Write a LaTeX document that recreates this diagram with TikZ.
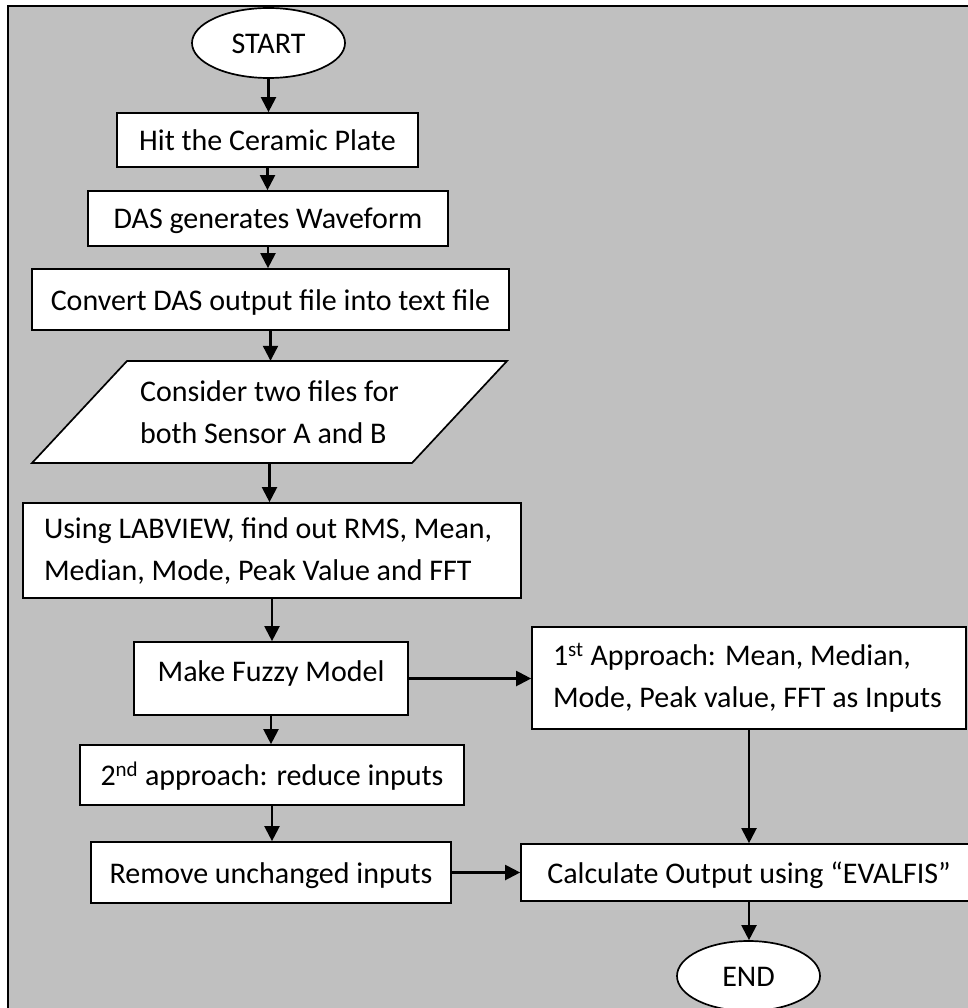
\documentclass[tikz,border=0pt]{standalone}
\usepackage{fontspec}
\setmainfont{Carlito}
\usetikzlibrary{arrows.meta,shapes.geometric}
\definecolor{bggray}{RGB}{192,192,192}
\begin{document}
\begin{tikzpicture}[x=1pt,y=-1pt,
  txt/.style={font=\fontsize{30}{42}\selectfont},
  box/.style={txt, draw, line width=1.7pt, fill=white, inner sep=0pt},
  oval/.style={txt, ellipse, draw, line width=1.7pt, fill=white, inner sep=0pt},
  one/.style={text height=24pt, text depth=3pt},
  arr/.style={line width=2.2pt, -{Triangle[length=15pt,width=15pt]}}
]
\useasboundingbox (0,0) rectangle (967,1008);
% background frame
\draw[line width=2.5pt, fill=bggray] (8,6) rectangle (1000,1040);

% left column
\node[oval, one, minimum width=153pt, minimum height=70pt] (start) at (268.5,43) {START};
\node[box, one, minimum width=301pt, minimum height=54pt] (hit) at (267.5,140) {Hit the Ceramic Plate};
\node[box, one, minimum width=360pt, minimum height=55pt] (das) at (268,218.5) {DAS generates Waveform};
\node[box, one, minimum width=477pt, minimum height=61pt] (conv) at (270.5,299.5) {Convert DAS output file into text file};
% parallelogram
\filldraw[fill=white, line width=1.7pt] (32,463) -- (127,361) -- (507,361) -- (412,463) -- cycle;
\node[txt, align=left, inner sep=0pt, minimum width=380pt, minimum height=102pt] (para) at (269.5,412) {Consider two files for\\both Sensor A and B};
\node[box, align=flush left, text width=456pt, inner xsep=21pt, minimum height=95pt] (lab) at (272,550.5) {Using LABVIEW, find out RMS, Mean,\\Median, Mode, Peak Value and FFT};
\node[box, text height=24pt, text depth=18pt, minimum width=274pt, minimum height=73pt] (fuzzy) at (271,678.5) {Make Fuzzy Model};
\node[box, one, minimum width=384pt, minimum height=60pt] (second) at (272,775) {2\textsuperscript{nd} approach: reduce inputs};
\node[box, one, minimum width=360pt, minimum height=61pt] (remove) at (271,872.5) {Remove unchanged inputs};

% right column
\node[box, align=flush left, text width=392pt, inner xsep=21pt, minimum height=102pt] (first) at (749,678) {1\textsuperscript{st} Approach: Mean, Median,\\Mode, Peak value, FFT as Inputs};
\node[box, one, minimum width=456pt, minimum height=57pt] (calc) at (749,872.5) {Calculate Output using “EVALFIS”};
\node[oval, one, minimum width=143pt, minimum height=70pt] (end) at (748.5,976) {END};

% connectors
\draw[arr] (start.south) -- (start.south |- hit.north);
\draw[arr] (hit.south) -- (hit.south |- das.north);
\draw[arr] (das.south) -- (das.south |- conv.north);
\draw[arr] (conv.south) -- (conv.south |- para.north);
\draw[arr] (para.south) -- (para.south |- lab.north);
\draw[arr] (lab.south) -- (lab.south |- fuzzy.north);
\draw[arr] (fuzzy.south) -- (fuzzy.south |- second.north);
\draw[arr] (second.south) -- (second.south |- remove.north);
\draw[arr] (fuzzy.east) -- (fuzzy.east -| first.west);
\draw[arr] (first.south) -- (first.south |- calc.north);
\draw[arr] (remove.east) -- (remove.east -| calc.west);
\draw[arr] (calc.south) -- (calc.south |- end.north);
\end{tikzpicture}
\end{document}
